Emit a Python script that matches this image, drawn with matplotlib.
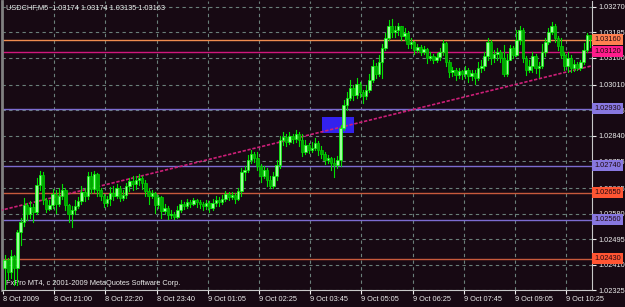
import matplotlib
matplotlib.use("Agg")
import matplotlib.pyplot as plt
from matplotlib.patches import Rectangle
import matplotlib.transforms as mtransforms

plt.rcParams['font.family'] = ['Liberation Sans', 'DejaVu Sans']

# USDCHF M5 candles, prices as points above 1.02000 (425 -> 1.02425)
first_open = 399
closes = [425, 385, 439, 399, 519, 552, 609, 579, 602, 585,
          675, 709, 625, 595, 609, 645, 612, 639, 659, 609,
          579, 592, 605, 622, 652, 639, 705, 662, 712, 659,
          639, 615, 629, 649, 639, 665, 632, 642, 672, 689,
          679, 692, 699, 682, 655, 639, 649, 609, 635, 589,
          599, 575, 579, 569, 592, 612, 605, 619, 612, 625,
          619, 612, 605, 615, 599, 615, 625, 619, 629, 645,
          635, 642, 629, 655, 719, 725, 759, 779, 765, 739,
          705, 725, 692, 672, 705, 742, 825, 835, 819, 839,
          829, 845, 825, 785, 809, 792, 799, 815, 792, 779,
          759, 765, 749, 742, 759, 865, 942, 965, 999, 975,
          1012, 985, 972, 992, 1025, 1072, 1045, 1085, 1132, 1165,
          1205, 1185, 1192, 1205, 1172, 1182, 1145, 1152, 1125, 1135,
          1119, 1129, 1099, 1105, 1092, 1102, 1119, 1149, 1085, 1052,
          1059, 1042, 1055, 1045, 1059, 1039, 1049, 1032, 1065, 1072,
          1105, 1152, 1099, 1112, 1119, 1099, 1045, 1092, 1132, 1109,
          1159, 1192, 1099, 1059, 1072, 1105, 1065, 1072, 1119, 1152,
          1185, 1205, 1165, 1139, 1109, 1072, 1099, 1065, 1079, 1065,
          1085, 1125, 1174, 1163]
highs = [442, 432, 459, 442, 525, 565, 632, 615, 622, 612,
         699, 722, 719, 632, 625, 662, 659, 665, 679, 665,
         612, 605, 625, 635, 672, 665, 719, 719, 722, 715,
         665, 645, 639, 669, 672, 679, 672, 659, 682, 699,
         705, 705, 712, 705, 692, 665, 659, 652, 642, 639,
         612, 605, 592, 585, 605, 625, 619, 629, 625, 632,
         629, 625, 619, 625, 622, 629, 639, 635, 642, 655,
         652, 652, 649, 665, 732, 739, 775, 792, 785, 785,
         745, 739, 732, 705, 719, 759, 839, 852, 845, 852,
         845, 859, 852, 845, 825, 815, 819, 832, 822, 805,
         785, 775, 769, 765, 772, 875, 959, 985, 1025, 1009,
         1032, 1019, 992, 1009, 1045, 1092, 1082, 1109, 1145, 1182,
         1225, 1229, 1205, 1215, 1205, 1199, 1189, 1165, 1155, 1145,
         1142, 1139, 1132, 1119, 1112, 1115, 1132, 1159, 1152, 1092,
         1069, 1065, 1065, 1059, 1072, 1065, 1059, 1059, 1085, 1092,
         1119, 1165, 1159, 1125, 1132, 1125, 1142, 1112, 1142, 1139,
         1192, 1205, 1199, 1105, 1092, 1119, 1112, 1085, 1145, 1165,
         1199, 1219, 1212, 1172, 1165, 1119, 1119, 1109, 1092, 1085,
         1092, 1149, 1182, 1174]
lows = [325, 359, 365, 342, 342, 475, 539, 559, 565, 552,
        579, 659, 612, 585, 592, 599, 582, 605, 629, 592,
        552, 535, 579, 599, 612, 622, 629, 649, 652, 639,
        625, 602, 605, 609, 625, 632, 622, 625, 632, 655,
        659, 662, 675, 662, 639, 612, 632, 582, 599, 565,
        582, 562, 565, 562, 565, 585, 595, 599, 602, 609,
        602, 599, 592, 595, 585, 592, 605, 605, 612, 622,
        625, 629, 615, 625, 639, 692, 719, 749, 752, 725,
        685, 699, 672, 665, 665, 692, 732, 809, 805, 812,
        815, 819, 805, 772, 779, 782, 785, 792, 775, 765,
        745, 749, 725, 702, 732, 739, 859, 925, 959, 959,
        965, 969, 949, 962, 985, 1019, 1032, 1039, 1032, 1125,
        1159, 1169, 1169, 1175, 1159, 1159, 1132, 1132, 1112, 1119,
        1109, 1112, 1082, 1092, 1082, 1085, 1092, 1109, 1072, 1035,
        1039, 1025, 1032, 1029, 1032, 1019, 1025, 1012, 1025, 1052,
        1059, 1092, 1079, 1085, 1092, 1085, 1039, 1039, 1092, 1099,
        1105, 1145, 1085, 1042, 1052, 1052, 1049, 1035, 1065, 1105,
        1145, 1179, 1152, 1125, 1099, 1059, 1052, 1052, 1055, 1059,
        1059, 1079, 1119, 1135]

# horizontal price levels (points above 1.02000)
levels = [1160, 1120, 930, 740, 650, 560, 430]
level_lines = ['#f08c50', '#d0187c', '#7c6cd0', '#7c6cd0', '#c85a3c', '#7c6cd0', '#c85a3c']
level_boxes = ['#ff8050', '#ff1c8c', '#8878e0', '#8878e0', '#ff5533', '#8878e0', '#ff5533']

# axis ticks
price_ticks = [1270, 1185, 1100, 1010, 925, 840, 755, 665, 580, 495, 410, 325]
date_bars = [0, 16, 32, 48, 64, 80, 96, 112, 128, 144, 160, 176]
date_labels = ['8 Oct 2009', '8 Oct 21:00', '8 Oct 22:20', '8 Oct 23:40',
               '9 Oct 01:05', '9 Oct 02:25', '9 Oct 03:45', '9 Oct 05:05',
               '9 Oct 06:25', '9 Oct 07:45', '9 Oct 09:05', '9 Oct 10:25']

# trend line and the rectangle object
trend_x = [-1.5, 184]
trend_y = [590, 1074]
rect_bars = [99.2, 109.2]
rect_prices = [849, 902]

bg = '#170913'
grid_c = '#6a7f7a'
txt_c = '#ececec'
fs = 5.3


def p(v):
    return 1.02 + v / 100000.0


fig = plt.figure(figsize=(6.25, 3.07), dpi=100, facecolor=bg)
ax = fig.add_axes([2 / 625, 17 / 307, 590 / 625, 289 / 307], facecolor=bg)

# grid
for v in price_ticks:
    ax.axhline(p(v), color=grid_c, lw=0.8, ls=(0, (3, 3)), zorder=1)
for b in date_bars[1:]:
    ax.axvline(b - 0.5, color=grid_c, lw=0.8, ls=(0, (3, 3)), zorder=1)

# levels
for v, c in zip(levels, level_lines):
    ax.axhline(p(v), color=c, lw=1.0, zorder=2)

ax.add_patch(Rectangle((rect_bars[0], p(rect_prices[0])), rect_bars[1] - rect_bars[0],
                       p(rect_prices[1]) - p(rect_prices[0]), facecolor='#3322ee',
                       edgecolor='none', zorder=2))

ax.plot(trend_x, [p(v) for v in trend_y], color='#cc1f78', lw=1.2,
        ls=(0, (2, 1)), zorder=3)

# candles
opens = [first_open] + closes[:-1]
for i, (o, h, l, c) in enumerate(zip(opens, highs, lows, closes)):
    h = max(h, o, c)
    l = min(l, o, c)
    ax.plot([i, i], [p(l), p(h)], color='#00e000', lw=0.8, zorder=4)
    lo, hi = min(o, c), max(o, c)
    if c >= o:
        fc, ec = '#9cff9c', '#00ff00'
    else:
        fc, ec = '#00a800', '#00d000'
    ax.add_patch(Rectangle((i - 0.38, p(lo)), 0.76, max(p(hi) - p(lo), 0.000004),
                           facecolor=fc, edgecolor=ec, lw=0.5, zorder=5))

ax.set_xlim(-0.8, 183.6)
ax.set_ylim(p(325), p(1289))

# axes look
ax.spines['top'].set_visible(False)
ax.spines['left'].set_color('#808080')
ax.spines['left'].set_linewidth(2)
ax.spines['right'].set_color('#c8c8c8')
ax.spines['bottom'].set_color('#c8c8c8')

ax.yaxis.tick_right()
ax.set_yticks([p(v) for v in price_ticks])
ax.set_yticklabels(['%.5f' % p(v) for v in price_ticks])
ax.tick_params(axis='y', colors=txt_c, labelsize=fs, length=3, pad=1.5, width=0.8)

ax.set_xticks([b - 0.5 for b in date_bars])
ax.set_xticklabels(date_labels, ha='left')
ax.tick_params(axis='x', colors=txt_c, labelsize=fs, length=3, pad=1.5, width=0.8)

# price level labels on the right
trans = mtransforms.blended_transform_factory(ax.transAxes, ax.transData)
for v, c in zip(levels, level_boxes):
    ax.text(1.0035, p(v), '%.5f' % p(v), transform=trans, ha='left', va='center',
            fontsize=fs, color='#200810', zorder=10, clip_on=False,
            bbox=dict(boxstyle='square,pad=0.3', fc=c, ec='none'))

ax.text(0.006, 0.988, 'USDCHF,M5  1.03174 1.03174 1.03135 1.03163',
        transform=ax.transAxes, ha='left', va='top', fontsize=fs, color=txt_c)
ax.text(0.006, 0.012, 'FxPro MT4, c 2001-2009 MetaQuotes Software Corp.',
        transform=ax.transAxes, ha='left', va='bottom', fontsize=fs, color=txt_c)

fig.savefig('out.png', dpi=100, facecolor=bg)
